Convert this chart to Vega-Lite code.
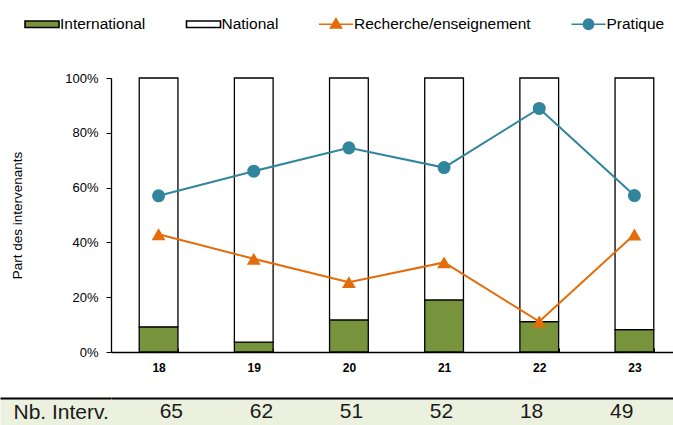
{
  "$schema": "https://vega.github.io/schema/vega-lite/v6.json",
  "padding": {"left": -14, "top": 6, "right": 0, "bottom": 0},
  "background": "white",
  "config": {"font": "Liberation Sans", "view": {"stroke": null}},
  "spacing": 24,
  "datasets": {
    "parts": [
      {"year": 18, "serie": "International", "value": 0.092},
      {"year": 18, "serie": "National", "value": 0.908},
      {"year": 18, "serie": "Recherche/enseignement", "value": 0.43},
      {"year": 18, "serie": "Pratique", "value": 0.57},
      {"year": 19, "serie": "International", "value": 0.036},
      {"year": 19, "serie": "National", "value": 0.964},
      {"year": 19, "serie": "Recherche/enseignement", "value": 0.34},
      {"year": 19, "serie": "Pratique", "value": 0.66},
      {"year": 20, "serie": "International", "value": 0.117},
      {"year": 20, "serie": "National", "value": 0.883},
      {"year": 20, "serie": "Recherche/enseignement", "value": 0.255},
      {"year": 20, "serie": "Pratique", "value": 0.745},
      {"year": 21, "serie": "International", "value": 0.19},
      {"year": 21, "serie": "National", "value": 0.81},
      {"year": 21, "serie": "Recherche/enseignement", "value": 0.327},
      {"year": 21, "serie": "Pratique", "value": 0.673},
      {"year": 22, "serie": "International", "value": 0.111},
      {"year": 22, "serie": "National", "value": 0.889},
      {"year": 22, "serie": "Recherche/enseignement", "value": 0.111},
      {"year": 22, "serie": "Pratique", "value": 0.889},
      {"year": 23, "serie": "International", "value": 0.082},
      {"year": 23, "serie": "National", "value": 0.918},
      {"year": 23, "serie": "Recherche/enseignement", "value": 0.429},
      {"year": 23, "serie": "Pratique", "value": 0.571}
    ],
    "nb": [
      {"year": 18, "n": 65},
      {"year": 19, "n": 62},
      {"year": 20, "n": 51},
      {"year": 21, "n": 52},
      {"year": 22, "n": 18},
      {"year": 23, "n": 49}
    ]
  },
  "resolve": {"scale": {"x": "independent", "y": "independent"}},
  "vconcat": [
    {
      "width": 571,
      "height": 274,
      "data": {"name": "parts"},
      "encoding": {
        "x": {
          "field": "year", "type": "ordinal",
          "scale": {"paddingInner": 0.593, "paddingOuter": 0.2965},
          "axis": {
            "title": null, "labelAngle": 0, "labelFontWeight": "bold", "labelFontSize": 12,
            "labelColor": "black", "labelPadding": 14, "tickBand": "extent", "tickSize": -4,
            "tickColor": "black", "tickWidth": 1, "domainColor": "black", "domainWidth": 1.3, "grid": false
          }
        },
        "y": {
          "field": "value", "type": "quantitative",
          "scale": {"domain": [0, 1]},
          "axis": {
            "format": "%", "values": [0, 0.2, 0.4, 0.6, 0.8, 1], "title": "Part des intervenants",
            "titleFontSize": 13.5, "titleFontWeight": "normal", "titleColor": "black", "titlePadding": 40,
            "labelFontSize": 13, "labelColor": "black", "labelPadding": 8, "tickSize": 5,
            "tickColor": "black", "domainColor": "black", "domainWidth": 1.3, "grid": false
          }
        }
      },
      "layer": [
        {
          "transform": [{"filter": "datum.serie === 'International' || datum.serie === 'National'"}],
          "mark": {"type": "bar", "strokeWidth": 1.3, "opacity": 1},
          "encoding": {
            "y": {"field": "value", "type": "quantitative", "stack": "zero"},
            "order": {"field": "serie", "sort": "ascending"},
            "fill": {
              "field": "serie", "type": "nominal",
              "scale": {
                "domain": ["International", "National", "Recherche/enseignement", "Pratique"],
                "range": ["#77933C", "#FFFFFF", "#E46C0A", "#31859C"]
              }
            },
            "stroke": {
              "field": "serie", "type": "nominal",
              "scale": {
                "domain": ["International", "National", "Recherche/enseignement", "Pratique"],
                "range": ["#000000", "#000000", "#E46C0A", "#31859C"]
              }
            }
          }
        },
        {
          "transform": [{"filter": "datum.serie === 'Recherche/enseignement' || datum.serie === 'Pratique'"}],
          "mark": {"type": "line", "strokeWidth": 2},
          "encoding": {
            "stroke": {"field": "serie", "type": "nominal"}
          }
        },
        {
          "transform": [{"filter": "datum.serie === 'Recherche/enseignement'"}],
          "mark": {"type": "point", "shape": "triangle-up", "filled": true, "size": 190, "opacity": 1},
          "encoding": {
            "fill": {"field": "serie", "type": "nominal"}
          }
        },
        {
          "transform": [{"filter": "datum.serie === 'Pratique'"}],
          "mark": {"type": "point", "shape": "circle", "filled": true, "size": 170, "opacity": 1},
          "encoding": {
            "fill": {"field": "serie", "type": "nominal"}
          }
        },
        {
          "transform": [{"filter": "datum.year === 18"}],
          "mark": {"type": "point", "filled": true, "size": 0, "opacity": 1},
          "encoding": {
            "fill": {"field": "serie", "type": "nominal"},
            "stroke": {"field": "serie", "type": "nominal"},
            "shape": {
              "field": "serie", "type": "nominal",
              "scale": {
                "domain": ["International", "National", "Recherche/enseignement", "Pratique"],
                "range": ["M-1,-0.19H1V0.19H-1Z", "M-1,-0.19H1V0.19H-1Z", "M-1,0H1M0,-0.33L0.32,0.22H-0.32Z", "M-1,0H1M0.3,0A0.3,0.3 0 1,1 -0.3,0A0.3,0.3 0 1,1 0.3,0Z"]
              },
              "legend": {
                "title": null, "orient": "none", "legendX": -87, "legendY": -72, "direction": "horizontal",
                "labelFontSize": 15.5, "labelColor": "black", "labelFont": "Liberation Sans", "labelLimit": 400,
                "symbolSize": 1156, "symbolStrokeWidth": 1.6, "symbolOpacity": 1, "labelOffset": 0, "columnPadding": 36.5
              }
            }
          }
        }
      ]
    },
    {
      "width": 571,
      "height": 28,
      "data": {"name": "nb"},
      "view": {"fill": "#EBF1DE", "stroke": null},
      "mark": {"type": "text", "fontSize": 21, "color": "#1a1a1a", "font": "Liberation Sans"},
      "encoding": {
        "x": {"field": "year", "type": "ordinal", "scale": {"type": "point", "padding": 0.67}, "axis": null},
        "y": {
          "datum": 0.5, "type": "quantitative", "scale": {"domain": [0, 1]},
          "axis": {
            "values": [0.5, 1], "labels": false,
            "title": "Nb. Interv.", "titleAngle": 0, "titleAlign": "left", "titleBaseline": "middle",
            "titleX": -98, "titleY": 14, "titleFontSize": 21, "titleFontWeight": "normal",
            "titleColor": "#1a1a1a", "titleFont": "Liberation Sans",
            "tickSize": 111,
            "tickWidth": {"condition": {"test": "datum.value === 1", "value": 2}, "value": 28},
            "tickColor": {"condition": {"test": "datum.value === 1", "value": "black"}, "value": "#EBF1DE"},
            "grid": true, "gridWidth": 2,
            "gridColor": {"condition": {"test": "datum.value === 1", "value": "black"}, "value": "transparent"},
            "domain": false
          }
        },
        "text": {"field": "n", "type": "quantitative"}
      }
    }
  ]
}
